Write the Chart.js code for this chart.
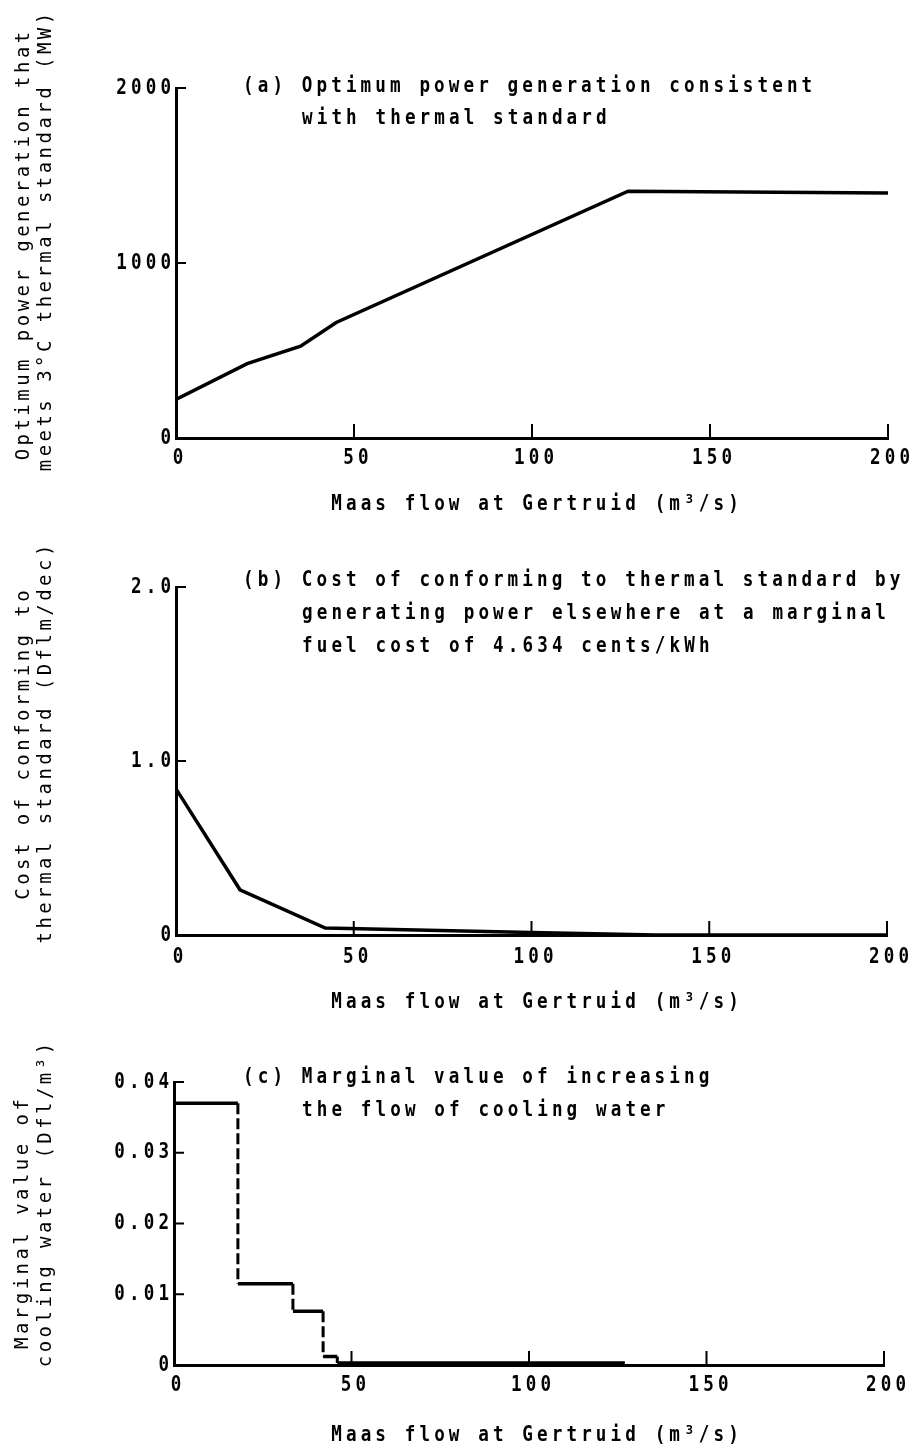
<!DOCTYPE html>
<html>
<head>
<meta charset="utf-8">
<title>Maas flow at Gertruid – thermal standard</title>
<script src="https://cdn.jsdelivr.net/npm/chart.js@4.4.1/dist/chart.umd.min.js"></script>
<style>
  html, body { margin: 0; padding: 0; background: #fff; }
  #wrap { position: relative; width: 916px; height: 1450px; }
  canvas { position: absolute; left: 0; }
</style>
</head>
<body>
<div id="wrap">
  <canvas id="panelA" width="916" height="520" style="top:0px"></canvas>
  <canvas id="panelB" width="916" height="510" style="top:520px"></canvas>
  <canvas id="panelC" width="916" height="420" style="top:1030px"></canvas>
</div>
<script>
// ---- data -------------------------------------------------------------
// x ticks shared by all three panels (Maas flow, m3/s)
const flowTicks = [0, 50, 100, 150, 200];
const flowTickLabels = ['0', '50', '100', '150', '200'];

// (a) optimum power generation (MW) vs flow
const flowA = [0, 20, 35, 45, 127, 200];
const powerMW = [220, 425, 525, 660, 1410, 1400];
const powerTicks = [0, 1000, 2000];
const powerTickLabels = ['0', '1000', '2000'];

// (b) cost of conforming (Dflm/dec) vs flow
const flowB = [0, 18, 42, 100, 135, 200];
const costDflm = [0.84, 0.26, 0.04, 0.015, 0, 0];
const costTicks = [0, 1, 2];
const costTickLabels = ['0', '1.0', '2.0'];

// (c) marginal value of cooling water (Dfl/m3): step levels between flow edges
const stepEdges = [0, 18, 33.5, 42, 46, 127];
const marginalValue = [0.037, 0.0115, 0.0076, 0.0012, 0.0003];
const marginalTicks = [0, 0.01, 0.02, 0.03, 0.04];
const marginalTickLabels = ['0', '0.01', '0.02', '0.03', '0.04'];

// ---- typewriter-style text (condensed glyphs on a fixed pitch) ----------
const FONT = "'DejaVu Sans Mono', 'Liberation Mono', monospace";
const PITCH = 14.7;

function drawTyped(ctx, str, x, y, o = {}) {
  const size = o.size || 22, align = o.align || 'left', pitch = o.pitch || PITCH;
  const sx = o.sx || 0.8;
  const weight = o.weight || 'bold';
  ctx.save();
  ctx.font = weight + ' ' + size + 'px ' + FONT;
  ctx.letterSpacing = '0px';
  const adv = ctx.measureText('M').width;
  const pitchU = pitch / sx;
  const spacing = pitchU - adv;
  const n = Array.from(str).length;
  const w = n * pitchU - spacing;
  ctx.letterSpacing = spacing.toFixed(2) + 'px';
  ctx.fillStyle = '#000';
  ctx.textBaseline = 'middle';
  ctx.textAlign = 'left';
  ctx.translate(x, y);
  if (o.rotate) ctx.rotate(-Math.PI / 2);
  ctx.scale(sx, 1);
  const dx = align === 'center' ? -w / 2 : align === 'right' ? -w : 0;
  ctx.fillText(str, dx, 0);
  ctx.restore();
}

// inward tick marks, tick labels, axis titles and panel captions
const panelDecor = {
  id: 'panelDecor',
  afterDraw(chart, args, opts) {
    const { ctx, chartArea: a, scales: { x, y } } = chart;
    ctx.save();
    ctx.strokeStyle = '#000';
    ctx.lineWidth = 2;
    ctx.beginPath();
    opts.xTicks.forEach(v => {
      if (v === x.min) return;
      const px = x.getPixelForValue(v);
      ctx.moveTo(px, a.bottom);
      ctx.lineTo(px, a.bottom - 14);
    });
    opts.yTicks.forEach(v => {
      if (v === y.min) return;
      const py = y.getPixelForValue(v);
      ctx.moveTo(a.left, py);
      ctx.lineTo(a.left + 10, py);
    });
    ctx.stroke();
    ctx.restore();

    opts.xTicks.forEach((v, i) => {
      drawTyped(ctx, opts.xLabels[i], x.getPixelForValue(v) + 2, a.bottom + opts.xLabelGap, { align: 'center' });
    });
    opts.yTicks.forEach((v, i) => {
      drawTyped(ctx, opts.yLabels[i], a.left - 5, y.getPixelForValue(v), { align: 'right' });
    });
    drawTyped(ctx, opts.xTitle, opts.xTitlePos[0], opts.xTitlePos[1], { align: 'center' });
    opts.yTitle.forEach(t => drawTyped(ctx, t.text, t.x, t.y,
      { align: 'center', rotate: true, size: 20, sx: 0.95, weight: 'normal', pitch: 14.9 }));
    opts.caption.forEach(t => drawTyped(ctx, t.text, t.x, t.y));
  }
};

function makePanel(id, area, datasets, yMin, yMax, decor) {
  const canvas = document.getElementById(id);
  const H = canvas.height, W = canvas.width;
  const axisStyle = { display: true, color: '#000', width: 3 };
  return new Chart(canvas, {
    type: 'scatter',
    data: { datasets },
    options: {
      responsive: false,
      animation: false,
      devicePixelRatio: 1,
      layout: { padding: { top: area.top, right: W - area.right, left: 0, bottom: 0 } },
      plugins: { legend: { display: false }, tooltip: { enabled: false }, panelDecor: decor },
      scales: {
        x: {
          type: 'linear', min: 0, max: 200,
          ticks: { display: false, stepSize: 50 },
          grid: { display: true, drawOnChartArea: false, drawTicks: false },
          border: axisStyle,
          afterFit: s => { s.height = H - area.bottom; }
        },
        y: {
          type: 'linear', min: yMin, max: yMax,
          ticks: { display: false },
          grid: { display: true, drawOnChartArea: false, drawTicks: false },
          border: axisStyle,
          afterFit: s => { s.width = area.left; }
        }
      }
    },
    plugins: [panelDecor]
  });
}

const lineStyle = {
  showLine: true, borderColor: '#000', borderWidth: 3.5, pointRadius: 0,
  fill: false, tension: 0, spanGaps: false, borderCapStyle: 'butt', borderJoinStyle: 'miter'
};
const xTitle = 'Maas flow at Gertruid (m³/s)';

// (a)
makePanel('panelA', { left: 176, right: 888, top: 88, bottom: 438 },
  [Object.assign({ data: flowA.map((f, i) => ({ x: f, y: powerMW[i] })) }, lineStyle)],
  0, 2000, {
    xTicks: flowTicks, xLabels: flowTickLabels, xLabelGap: 20,
    yTicks: powerTicks, yLabels: powerTickLabels,
    xTitle: xTitle, xTitlePos: [535, 504],
    yTitle: [
      { text: 'Optimum power generation that', x: 24, y: 246 },
      { text: 'meets 3°C thermal standard (MW)', x: 46, y: 242 }
    ],
    caption: [
      { text: '(a) Optimum power generation consistent', x: 243, y: 86 },
      { text: 'with thermal standard', x: 302, y: 118 }
    ]
  });

// (b)
makePanel('panelB', { left: 176, right: 887, top: 67, bottom: 415 },
  [Object.assign({ data: flowB.map((f, i) => ({ x: f, y: costDflm[i] })) }, lineStyle)],
  0, 2, {
    xTicks: flowTicks, xLabels: flowTickLabels, xLabelGap: 22,
    yTicks: costTicks, yLabels: costTickLabels,
    xTitle: xTitle, xTitlePos: [535, 482],
    yTitle: [
      { text: 'Cost of conforming to', x: 24, y: 225 },
      { text: 'thermal standard (Dflm/dec)', x: 46, y: 224 }
    ],
    caption: [
      { text: '(b) Cost of conforming to thermal standard by', x: 243, y: 60 },
      { text: 'generating power elsewhere at a marginal', x: 302, y: 93 },
      { text: 'fuel cost of 4.634 cents/kWh', x: 302, y: 126 }
    ]
  });

// (c) step function: solid horizontal levels, dashed risers between them
const levelPoints = [];
const riserPoints = [];
marginalValue.forEach((v, i) => {
  levelPoints.push({ x: stepEdges[i], y: v }, { x: stepEdges[i + 1], y: v }, { x: stepEdges[i + 1], y: null });
  if (i + 1 < marginalValue.length) {
    riserPoints.push({ x: stepEdges[i + 1], y: v }, { x: stepEdges[i + 1], y: marginalValue[i + 1] }, { x: stepEdges[i + 1], y: null });
  }
});
makePanel('panelC', { left: 174, right: 884, top: 52, bottom: 335 },
  [
    Object.assign({ data: levelPoints }, lineStyle),
    Object.assign({ data: riserPoints }, lineStyle, { borderWidth: 3, borderDash: [11, 4] })
  ],
  0, 0.04, {
    xTicks: flowTicks, xLabels: flowTickLabels, xLabelGap: 20,
    yTicks: marginalTicks, yLabels: marginalTickLabels,
    xTitle: xTitle, xTitlePos: [535, 405],
    yTitle: [
      { text: 'Marginal value of', x: 23, y: 194 },
      { text: 'cooling water (Dfl/m³)', x: 46, y: 175 }
    ],
    caption: [
      { text: '(c) Marginal value of increasing', x: 243, y: 47 },
      { text: 'the flow of cooling water', x: 302, y: 80 }
    ]
  });
</script>
</body>
</html>
